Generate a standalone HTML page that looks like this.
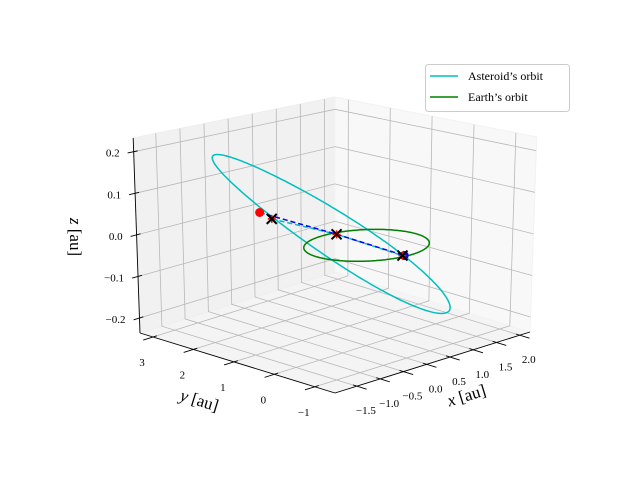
<!DOCTYPE html>
<html><head><meta charset="utf-8"><style>
body{margin:0;background:#fff}
svg text{font-family:"Liberation Serif",serif}
</style></head><body>
<svg id="c" width="640" height="480" viewBox="0 0 640 480" xmlns="http://www.w3.org/2000/svg">
<g id="panes"></g>
<g id="grid"></g>
<g id="axes"></g>
<g id="series"></g>
<text x="74" y="237" font-size="17" text-anchor="middle" dominant-baseline="middle" transform="rotate(90 74 237)"><tspan font-style="italic">z</tspan> [au]</text>
<text x="199" y="402" font-size="17" text-anchor="middle" dominant-baseline="middle" transform="rotate(17 199 402)"><tspan font-style="italic">y</tspan> [au]</text>
<text x="467" y="397" font-size="17" text-anchor="middle" dominant-baseline="middle" transform="rotate(-17 467 397)"><tspan font-style="italic">x</tspan> [au]</text>
<g>
<rect x="425.5" y="64.5" width="144" height="47" rx="3" fill="#fff" fill-opacity="0.85" stroke="#ccc"/>
<line x1="430" y1="76" x2="458" y2="76" stroke="#00bfbf" stroke-width="1.5"/>
<text x="468" y="80" font-size="12">Asteroid’s orbit</text>
<line x1="430" y1="97" x2="458" y2="97" stroke="#008000" stroke-width="1.5"/>
<text x="468" y="101" font-size="12">Earth’s orbit</text>
</g>
</svg>
<script>
const xTicks=[-1.5,-1.0,-0.5,0.0,0.5,1.0,1.5,2.0];
const yTicks=[-1,0,1,2,3];
const zTicks=[-0.2,-0.1,0.0,0.1,0.2];
const xLim=[-1.97,2.22];
const yLim=[-1.5,3.32];
const zLim=[-0.236,0.233];
// asteroid orbit: center, semi-major, semi-minor vectors (au)
const astCenter=[0.12,0.955,0.0];
const astA=[-1.53,1.125,0.2];
const astB=[1.0,1.0,0.0];
const earthRadius=1.0;
const asteroidPos=[-1.55,0.8,0.10];
const earthPos=[-0.03,-0.95,0.0];
const crossX=[-1.42,0.28,-0.05];
const crossY=[0.66,1.05,-0.93];
const crossZ=[0.085,-0.008,0.0];

const NS='http://www.w3.org/2000/svg';
function P(x,y,z){
  const u=(x-xLim[0])/(xLim[1]-xLim[0]);
  const v=(y-yLim[0])/(yLim[1]-yLim[0]);
  const w=(z-zLim[0])/(zLim[1]-zLim[0]);
  const d=(u+v)/2, h=215-40*d;
  return [335+195*(u-v)*(1+0.035*w), 393-61*u-60*v-h*w];
}
function mk(tag,attrs,parent){const e=document.createElementNS(NS,tag);for(const k in attrs)e.setAttribute(k,attrs[k]);document.getElementById(parent).appendChild(e);return e;}
function poly(pts){return pts.map(p=>p[0].toFixed(1)+','+p[1].toFixed(1)).join(' ');}
const [x0,x1]=xLim,[y0,y1]=yLim,[z0,z1]=zLim;
let e;
e=mk('polygon',{points:poly([P(x0,y0,z0),P(x1,y0,z0),P(x1,y1,z0),P(x0,y1,z0)]),fill:'#f4f4f4',stroke:'#f0f0f0'},'panes');


e=mk('polygon',{points:poly([P(x0,y1,z0),P(x1,y1,z0),P(x1,y1,z1),P(x0,y1,z1)]),fill:'#f1f1f1',stroke:'#eee'},'panes');


e=mk('polygon',{points:poly([P(x1,y0,z0),P(x1,y1,z0),P(x1,y1,z1),P(x1,y0,z1)]),fill:'#f8f8f8',stroke:'#f2f2f2'},'panes');


const gs={stroke:'#b8b8b8','stroke-width':0.8,fill:'none'};
function gl(pts,name){const el=mk('polyline',Object.assign({points:poly(pts)},gs),'grid');}
xTicks.forEach(x=>{gl([P(x,y0,z0),P(x,y1,z0),P(x,y1,z1)],'x-grid-line');});
yTicks.forEach(y=>{gl([P(x0,y,z0),P(x1,y,z0),P(x1,y,z1)],'y-grid-line');});
zTicks.forEach(z=>{gl([P(x0,y1,z),P(x1,y1,z),P(x1,y0,z)],'z-grid-line');});
function ln(a,b,name,extra){const el=mk('line',Object.assign({x1:a[0],y1:a[1],x2:b[0],y2:b[1],stroke:'#000','stroke-width':0.9},extra||{}),'axes');return el;}
function tx(x,y,s,anchor,name){const el=mk('text',{x:x,y:y,'font-size':11,'text-anchor':anchor,fill:'#000'},'axes');el.textContent=s;}
const fmt=v=>(v<0?'\u2212':'')+Math.abs(v);
ln(P(x0,y0,z0),P(x0,y1,z0),'y-axis-line');
ln(P(x0,y0,z0),P(x1,y0,z0),'x-axis-line');
ln(P(x0,y1,z0),P(x0,y1,z1),'z-axis-line');
const xr=x1-x0,yr=y1-y0;
xTicks.forEach(x=>{const a=P(x,y0+0.02*yr,z0),b=P(x,y0-0.05*yr,z0);ln(a,b,'x-tick');const p=P(x,y0,z0);tx(p[0]+9,p[1]+28,x.toFixed(1).replace('-','\u2212'),'middle','x-tick-label');});
yTicks.forEach(y=>{const a=P(x0+0.02*xr,y,z0),b=P(x0-0.05*xr,y,z0);ln(a,b,'y-tick');const p=P(x0,y,z0);tx(p[0]-11,p[1]+29,fmt(y),'middle','y-tick-label');});
zTicks.forEach(z=>{const a=P(x0+0.02*xr,y1,z),b=P(x0-0.03*xr,y1,z);ln(a,b,'z-tick');const p=P(x0,y1,z);tx(p[0]-14,p[1]+5,(z<0?'\u2212':'')+Math.abs(z).toFixed(1),'end','z-tick-label');});
// series
function sp(pts,attrs,name){const el=mk('polyline',Object.assign({points:poly(pts),fill:'none'},attrs),'series');return el;}
const N=200;const ast=[],earth=[];
for(let i=0;i<=N;i++){const t=2*Math.PI*i/N,c=Math.cos(t),s=Math.sin(t);
 ast.push(P(astCenter[0]+c*astA[0]+s*astB[0],astCenter[1]+c*astA[1]+s*astB[1],astCenter[2]+c*astA[2]+s*astB[2]));
 earth.push(P(earthRadius*c,earthRadius*s,0));}
sp(ast,{stroke:'#00bfbf','stroke-width':1.5},'asteroid-orbit');
sp(earth,{stroke:'#008000','stroke-width':1.5},'earth-orbit');
const cp=crossX.map((x,i)=>P(x,crossY[i],crossZ[i]));
sp(cp,{stroke:'#00bfbf','stroke-width':1.5,'stroke-dasharray':'5,3'},'asteroid-path-dashed');
const pr=P(...asteroidPos),pe=P(...earthPos);
sp([pr,cp[1],pe],{stroke:'#0000ff','stroke-width':1.5,'stroke-dasharray':'5,3'},'line-of-sight-dashed');
e=mk('circle',{cx:pr[0],cy:pr[1],r:4.5,fill:'#ff0000'},'series');


e=mk('circle',{cx:pe[0],cy:pe[1],r:4.5,fill:'#0000ff'},'series');


cp.forEach(p=>{
 const r=mk('path',{d:`M${p[0]-4},${p[1]}h8M${p[0]},${p[1]-4}v8`,stroke:'#ff0000','stroke-width':1.5},'series');
 
 
 const k=mk('path',{d:`M${p[0]-5},${p[1]-5}l10,10M${p[0]-5},${p[1]+5}l10,-10`,stroke:'#000','stroke-width':2},'series');
 
 
});
</script>
</body></html>
